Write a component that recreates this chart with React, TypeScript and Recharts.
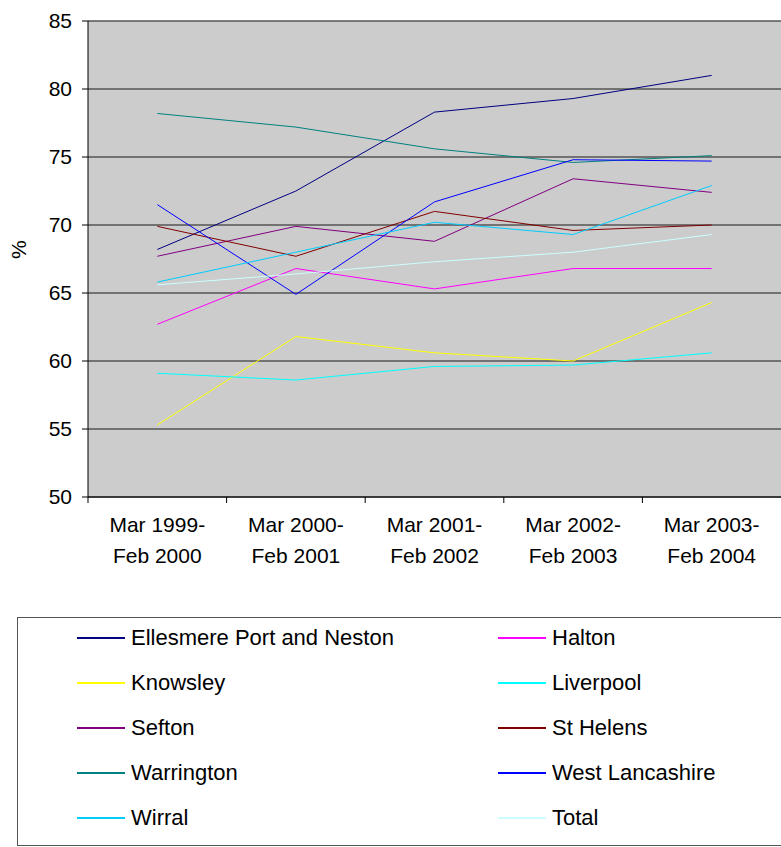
import { LineChart, Line, XAxis, YAxis, CartesianGrid } from 'recharts';

const categories = ['Mar 1999-|Feb 2000', 'Mar 2000-|Feb 2001', 'Mar 2001-|Feb 2002', 'Mar 2002-|Feb 2003', 'Mar 2003-|Feb 2004'];

const ellesmere = [68.2, 72.5, 78.3, 79.3, 81.0];
const halton = [62.7, 66.8, 65.3, 66.8, 66.8];
const knowsley = [55.3, 61.8, 60.6, 60.0, 64.3];
const liverpool = [59.1, 58.6, 59.6, 59.7, 60.6];
const sefton = [67.7, 69.9, 68.8, 73.4, 72.4];
const stHelens = [69.9, 67.7, 71.0, 69.6, 70.0];
const warrington = [78.2, 77.2, 75.6, 74.6, 75.1];
const westLancs = [71.5, 64.9, 71.7, 74.8, 74.7];
const wirral = [65.8, 68.0, 70.2, 69.3, 72.9];
const total = [65.6, 66.4, 67.3, 68.0, 69.3];

const yTicks = [50, 55, 60, 65, 70, 75, 80, 85];

const series = [
  { key: 'ellesmere', name: 'Ellesmere Port and Neston', color: '#000080', values: ellesmere },
  { key: 'halton', name: 'Halton', color: '#FF00FF', values: halton },
  { key: 'knowsley', name: 'Knowsley', color: '#FFFF00', values: knowsley },
  { key: 'liverpool', name: 'Liverpool', color: '#00FFFF', values: liverpool },
  { key: 'sefton', name: 'Sefton', color: '#800080', values: sefton },
  { key: 'stHelens', name: 'St Helens', color: '#800000', values: stHelens },
  { key: 'warrington', name: 'Warrington', color: '#008080', values: warrington },
  { key: 'westLancs', name: 'West Lancashire', color: '#0000FF', values: westLancs },
  { key: 'wirral', name: 'Wirral', color: '#00CCFF', values: wirral },
  { key: 'total', name: 'Total', color: '#CCFFFF', values: total },
];

const data = categories.map((cat, i) => {
  const row: Record<string, string | number> = { cat };
  series.forEach((s) => (row[s.key] = s.values[i]));
  return row;
});

const FONT = '"Liberation Sans", Arial, sans-serif';

const XTick = (props: any) => {
  const { x, y, payload, width, visibleTicksCount } = props;
  const [l1, l2] = String(payload.value).split('|');
  const band = width / visibleTicksCount;
  return (
    <g>
      <line x1={x - band / 2} x2={x - band / 2} y1={y - 8} y2={y - 2} stroke="#000" />
      <text x={x} y={y + 27} textAnchor="middle" fontSize={21} fontFamily={FONT} fill="#000">
        {l1}
      </text>
      <text x={x} y={y + 58} textAnchor="middle" fontSize={21} fontFamily={FONT} fill="#000">
        {l2}
      </text>
    </g>
  );
};

export default function App() {
  return (
    <div style={{ position: 'absolute', left: 0, top: 0, width: 781, height: 847, background: '#fff', fontFamily: FONT }}>
      <LineChart width={781} height={600} data={data} margin={{ top: 21, right: 0, left: 0, bottom: 0 }}>
        <CartesianGrid vertical={false} fill="#CCCCCC" stroke="#555" strokeWidth={1.5} horizontalValues={yTicks} />
        <XAxis
          dataKey="cat"
          scale="band"
          height={103}
          tick={<XTick />}
          tickLine={false}
          axisLine={{ stroke: '#000' }}
          interval={0}
        />
        <YAxis
          width={88}
          domain={[50, 85]}
          ticks={yTicks}
          tickSize={6}
          tickMargin={10}
          axisLine={{ stroke: '#000' }}
          tickLine={{ stroke: '#000' }}
          tick={{ fontSize: 21, fontFamily: FONT, fill: '#000' }}
          label={{ value: '%', angle: -90, position: 'insideLeft', offset: 19, fontSize: 21, fontFamily: FONT, fill: '#000' }}
        />
        {series.map((s) => (
          <Line
            key={s.key}
            dataKey={s.key}
            name={s.name}
            stroke={s.color}
            strokeWidth={1}
            dot={false}
            isAnimationActive={false}
          />
        ))}
      </LineChart>
      <div
        style={{
          position: 'absolute',
          left: 17,
          top: 617,
          width: 770,
          height: 229,
          border: '1px solid #555',
          boxSizing: 'border-box',
        }}
      >
        {series.map((s, i) => {
          const col = i % 2;
          const row = Math.floor(i / 2);
          return (
            <div
              key={s.key}
              style={{
                position: 'absolute',
                left: col === 0 ? 59 : 480,
                top: 20 + row * 45 - 13,
                height: 26,
                display: 'flex',
                alignItems: 'center',
                fontSize: 22,
                color: '#000',
                whiteSpace: 'nowrap',
              }}
            >
              <span style={{ display: 'inline-block', width: 48, height: 2, background: s.color, marginRight: 6 }} />
              <span>{s.name}</span>
            </div>
          );
        })}
      </div>
    </div>
  );
}
